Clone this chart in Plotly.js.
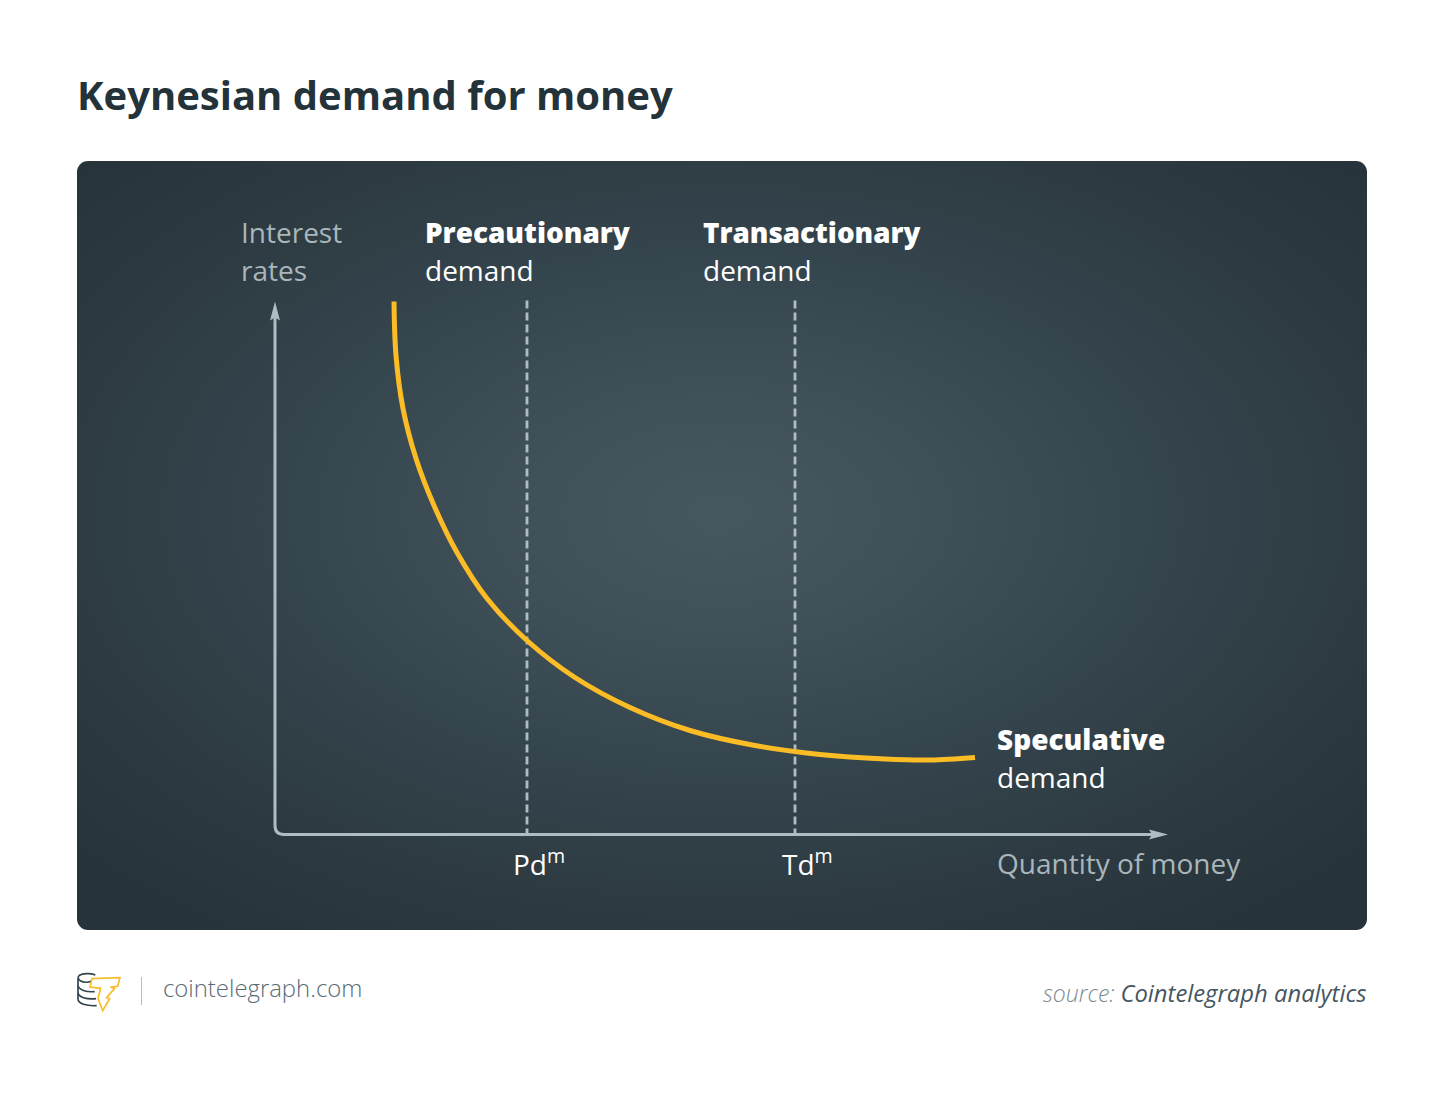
<!DOCTYPE html>
<html><head><meta charset="utf-8">
<script src="https://cdn.plot.ly/plotly-3.0.1.min.js"></script>
<style>
html,body{margin:0;padding:0;background:#fff;width:1450px;height:1098px;overflow:hidden}
#panel{position:absolute;left:77px;top:161px;width:1290px;height:769px;border-radius:11px;
background:radial-gradient(ellipse 880px 520px at 643px 352px,#46575f 0%,#3f5059 24%,#35454d 50%,#2d3a41 76%,#27333a 100%)}
#chart{position:absolute;left:0;top:0;width:1450px;height:1098px}
</style></head><body>
<div id="panel"></div>
<div id="chart"></div>
<script>
// Values
const quantity = [119,121,128,141,159,182,212,252,300,355,415,480,545,610,655,700];
const interestRate = [533,479,426,376,329,282,236,194,157,127,104,89,80,75.5,74.5,77];
const precautionaryQuantity = 252;
const transactionaryQuantity = 520;
const linePeak = 534;
const axisTopY = 533;
const axisEndX = 893;

const axisColor = '#aebdc3';
const sans = '"Open Sans", sans-serif';

function label(x, y, text, size, color, weight) {
  return {xref:'x', yref:'y', x:x, y:y, text:text, showarrow:false,
    xanchor:'left', yanchor:'middle', align:'left',
    font:{family:sans, size:size, color:color, weight:weight||400}};
}

const traces = [
  {x:[precautionaryQuantity,precautionaryQuantity], y:[linePeak,0], mode:'lines',
   line:{color:axisColor,width:2.8,dash:'8px,4px'}, hoverinfo:'skip'},
  {x:[transactionaryQuantity,transactionaryQuantity], y:[linePeak,0], mode:'lines',
   line:{color:axisColor,width:2.8,dash:'8px,4px'}, hoverinfo:'skip'},
  {x:quantity, y:interestRate, mode:'lines',
   line:{color:'#fbbc26',width:5,shape:'spline',smoothing:1}, hoverinfo:'skip'}
];

const logoSvg = `<svg xmlns="http://www.w3.org/2000/svg" width="60" height="50" viewBox="0 0 180 150">
<g fill="none" stroke="#33444d" stroke-width="5">
<path d="M72 44C62 53 42 54 32 48C24 44 22 36 28 31C38 25 62 24 76 30"/>
<path d="M24 40V102C24 116 50 124 80 122"/>
<path d="M24 62C26 74 48 82 74 80"/>
<path d="M24 84C26 96 48 104 78 101"/>
</g>
<path d="M66 41L150 38L143 64L121 66L134 70L110 98L119 101L98 137L84 100L92 70L60 66Z" fill="#fff" stroke="#f7bd2d" stroke-width="5" stroke-linejoin="miter"/>
</svg>`;

const layout = {
  width:1450, height:1098,
  margin:{l:0,r:0,t:0,b:0},
  paper_bgcolor:'rgba(0,0,0,0)', plot_bgcolor:'rgba(0,0,0,0)',
  showlegend:false,
  xaxis:{range:[-275,1175],visible:false,fixedrange:true},
  yaxis:{range:[-263.5,834.5],visible:false,fixedrange:true},
  shapes:[
    {type:'path', xref:'x', yref:'y',
     path:`M 0,${axisTopY-12} L 0,9 Q 0,0 9,0 L ${axisEndX-12},0`,
     line:{color:axisColor,width:3}, layer:'above'},
    {type:'path', xref:'x', yref:'y',
     path:`M 0,${axisTopY} L 5,${axisTopY-19} L 0,${axisTopY-16} L -5,${axisTopY-19} Z`,
     fillcolor:axisColor, line:{width:0}, layer:'above'},
    {type:'path', xref:'x', yref:'y',
     path:`M ${axisEndX},0 L ${axisEndX-19},5 L ${axisEndX-16},0 L ${axisEndX-19},-5 Z`,
     fillcolor:axisColor, line:{width:0}, layer:'above'},
    {type:'line', xref:'paper', yref:'paper', x0:141.5/1450, x1:141.5/1450, y0:1-977/1098, y1:1-1005/1098,
     line:{color:'#b4bfc4',width:1}}
  ],
  images:[{source:'data:image/svg+xml;utf8,'+encodeURIComponent(logoSvg),
    xref:'paper',yref:'paper',x:70/1450,y:1-965/1098,sizex:60/1450,sizey:50/1098,
    xanchor:'left',yanchor:'top',sizing:'contain',layer:'above'}],
  annotations:[
    label(-200,740,'Keynesian demand for money',40,'#24323a',700),
    label(-36,602.5,'Interest',28,'#a9b6bb'),
    label(-36,564.5,'rates',28,'#a9b6bb'),
    label(148,602.5,'Precautionary',27.9,'#ffffff',800),
    label(148,564.5,'demand',28,'#ffffff'),
    label(426,602.5,'Transactionary',27.8,'#ffffff',800),
    label(426,564.5,'demand',28,'#ffffff'),
    label(720,95.5,'Speculative',28,'#ffffff',800),
    label(720,57.5,'demand',28,'#ffffff'),
    label(720,-28,'Quantity of money',28,'#a9b6bb'),
    label(236,-28,'Pd<sup>m</sup>',28,'#ffffff'),
    label(505,-28,'Td<sup>m</sup>',28,'#ffffff'),
    label(-114,-153,'cointelegraph.com',23.9,'#5a6b74',300),
    Object.assign(label(1093,-158,'<i><span style="font-weight:300;font-size:23px;color:#7d8a90">source: </span>Cointelegraph analytics</i>',23.8,'#46565f'),{xanchor:'right'})
  ]
};
Plotly.newPlot('chart',traces,layout,{displayModeBar:false,staticPlot:true});
</script>
</body></html>
